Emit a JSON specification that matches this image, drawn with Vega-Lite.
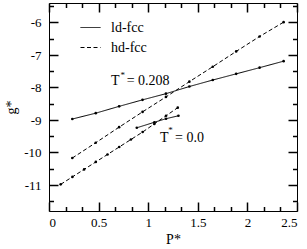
{
  "$schema": "https://vega.github.io/schema/vega-lite/v6.json",
  "width": 248,
  "height": 208,
  "autosize": {"type": "none"},
  "padding": {"left": 49, "top": 3, "right": 10, "bottom": 38},
  "config": {
    "view": {"stroke": "black", "strokeWidth": 1},
    "font": "Liberation Serif",
    "axis": {
      "domain": false,
      "grid": false,
      "labelColor": "black",
      "labelFont": "Liberation Serif",
      "labelFontSize": 13,
      "titleFont": "Liberation Serif",
      "titleFontSize": 14,
      "titleFontWeight": "normal",
      "titleColor": "black"
    }
  },
  "datasets": {
    "curves": [
      {"p": 0.235, "g": -8.97, "phase": "ld-fcc", "curve": "ld0208"},
      {"p": 0.471, "g": -8.79, "phase": "ld-fcc", "curve": "ld0208"},
      {"p": 0.707, "g": -8.58, "phase": "ld-fcc", "curve": "ld0208"},
      {"p": 0.943, "g": -8.38, "phase": "ld-fcc", "curve": "ld0208"},
      {"p": 1.179, "g": -8.19, "phase": "ld-fcc", "curve": "ld0208"},
      {"p": 1.415, "g": -7.97, "phase": "ld-fcc", "curve": "ld0208"},
      {"p": 1.651, "g": -7.77, "phase": "ld-fcc", "curve": "ld0208"},
      {"p": 1.887, "g": -7.58, "phase": "ld-fcc", "curve": "ld0208"},
      {"p": 2.123, "g": -7.39, "phase": "ld-fcc", "curve": "ld0208"},
      {"p": 2.365, "g": -7.19, "phase": "ld-fcc", "curve": "ld0208"},
      {"p": 0.235, "g": -10.17, "phase": "hd-fcc", "curve": "hd0208"},
      {"p": 0.471, "g": -9.70, "phase": "hd-fcc", "curve": "hd0208"},
      {"p": 0.707, "g": -9.22, "phase": "hd-fcc", "curve": "hd0208"},
      {"p": 0.943, "g": -8.75, "phase": "hd-fcc", "curve": "hd0208"},
      {"p": 1.179, "g": -8.29, "phase": "hd-fcc", "curve": "hd0208"},
      {"p": 1.415, "g": -7.82, "phase": "hd-fcc", "curve": "hd0208"},
      {"p": 1.651, "g": -7.36, "phase": "hd-fcc", "curve": "hd0208"},
      {"p": 1.887, "g": -6.89, "phase": "hd-fcc", "curve": "hd0208"},
      {"p": 2.123, "g": -6.43, "phase": "hd-fcc", "curve": "hd0208"},
      {"p": 2.365, "g": -5.99, "phase": "hd-fcc", "curve": "hd0208"},
      {"p": 0.118, "g": -10.98, "phase": "hd-fcc", "curve": "hd00"},
      {"p": 0.236, "g": -10.75, "phase": "hd-fcc", "curve": "hd00"},
      {"p": 0.354, "g": -10.52, "phase": "hd-fcc", "curve": "hd00"},
      {"p": 0.472, "g": -10.29, "phase": "hd-fcc", "curve": "hd00"},
      {"p": 0.590, "g": -10.06, "phase": "hd-fcc", "curve": "hd00"},
      {"p": 0.708, "g": -9.83, "phase": "hd-fcc", "curve": "hd00"},
      {"p": 0.826, "g": -9.60, "phase": "hd-fcc", "curve": "hd00"},
      {"p": 0.944, "g": -9.37, "phase": "hd-fcc", "curve": "hd00"},
      {"p": 1.062, "g": -9.12, "phase": "hd-fcc", "curve": "hd00"},
      {"p": 1.180, "g": -8.87, "phase": "hd-fcc", "curve": "hd00"},
      {"p": 1.298, "g": -8.62, "phase": "hd-fcc", "curve": "hd00"},
      {"p": 0.885, "g": -9.24, "phase": "ld-fcc", "curve": "ld00"},
      {"p": 1.062, "g": -9.07, "phase": "ld-fcc", "curve": "ld00"},
      {"p": 1.180, "g": -8.96, "phase": "ld-fcc", "curve": "ld00"},
      {"p": 1.305, "g": -8.87, "phase": "ld-fcc", "curve": "ld00"}
    ],
    "labels": [
      {"p": 0.625, "g": -7.92, "text": "T"},
      {"p": 0.783, "g": -7.92, "text": "= 0.208"},
      {"p": 1.119, "g": -9.69, "text": "T"},
      {"p": 1.27, "g": -9.69, "text": "= 0.0"}
    ],
    "stars": [
      {"p": 0.744, "g": -7.62, "text": "*"},
      {"p": 1.225, "g": -9.30, "text": "*"}
    ]
  },
  "resolve": {"axis": {"x": "independent", "y": "independent"}},
  "layer": [
    {
      "data": {"name": "curves"},
      "mark": {"type": "line", "color": "black", "strokeWidth": 1},
      "encoding": {
        "x": {
          "field": "p", "type": "quantitative",
          "scale": {"domain": [0, 2.5], "nice": false, "zero": false},
          "axis": {
            "orient": "bottom",
            "title": "P*",
            "values": [0, 0.5, 1, 1.5, 2, 2.5],
            "ticks": false,
            "labelExpr": "toString(datum.value)",
            "labelPadding": 5,
            "titlePadding": 3
          }
        },
        "y": {
          "field": "g", "type": "quantitative",
          "scale": {"domain": [-11.8, -5.4], "nice": false, "zero": false},
          "axis": {
            "orient": "left",
            "title": "g*",
            "values": [-11, -10, -9, -8, -7, -6],
            "ticks": false,
            "labelExpr": "toString(datum.value)",
            "labelPadding": 8,
            "titlePadding": 5
          }
        },
        "detail": {"field": "curve"},
        "strokeDash": {
          "field": "phase", "type": "nominal",
          "scale": {"domain": ["ld-fcc", "hd-fcc"], "range": [[1, 0], [4, 2.5]]},
          "legend": {
            "orient": "none",
            "legendX": 31,
            "legendY": 14,
            "title": null,
            "padding": 0,
            "symbolType": "stroke",
            "symbolSize": 400,
            "symbolStrokeWidth": 1,
            "symbolStrokeColor": "black",
            "labelFont": "Liberation Serif",
            "labelFontSize": 14,
            "labelColor": "black",
            "labelOffset": 10,
            "rowPadding": 2
          }
        }
      }
    },
    {
      "data": {"name": "curves"},
      "mark": {"type": "point", "opacity": 0},
      "encoding": {
        "x": {
          "field": "p", "type": "quantitative",
          "axis": {"orient": "bottom", "title": null, "labels": false, "values": [0, 0.5, 1, 1.5, 2, 2.5], "tickColor": "black", "tickWidth": 1.5, "tickSize": 9, "offset": -9}
        },
        "y": {
          "field": "g", "type": "quantitative",
          "axis": {"orient": "left", "title": null, "labels": false, "values": [-11, -10, -9, -8, -7, -6], "tickColor": "black", "tickWidth": 1.5, "tickSize": 9, "offset": -9}
        }
      }
    },
    {
      "data": {"name": "curves"},
      "mark": {"type": "point", "opacity": 0},
      "encoding": {
        "x": {
          "field": "p", "type": "quantitative",
          "axis": {"orient": "top", "title": null, "labels": false, "values": [0, 0.5, 1, 1.5, 2, 2.5], "tickColor": "black", "tickWidth": 1.5, "tickSize": -9}
        },
        "y": {
          "field": "g", "type": "quantitative",
          "axis": {"orient": "right", "title": null, "labels": false, "values": [-11, -10, -9, -8, -7, -6], "tickColor": "black", "tickWidth": 1.5, "tickSize": -9}
        }
      }
    },
    {
      "data": {"name": "curves"},
      "mark": {"type": "point", "opacity": 0},
      "encoding": {
        "x": {
          "field": "p", "type": "quantitative",
          "axis": {"orient": "bottom", "title": null, "labels": false, "values": [0.16667, 0.33333, 0.66667, 0.83333, 1.16667, 1.33333, 1.66667, 1.83333, 2.16667, 2.33333], "tickColor": "black", "tickWidth": 1.5, "tickSize": 4.5, "offset": -4.5}
        },
        "y": {
          "field": "g", "type": "quantitative",
          "axis": {"orient": "left", "title": null, "labels": false, "values": [-11.5, -10.5, -9.5, -8.5, -7.5, -6.5, -5.5], "tickColor": "black", "tickWidth": 1.5, "tickSize": 4.5, "offset": -4.5}
        }
      }
    },
    {
      "data": {"name": "curves"},
      "mark": {"type": "point", "opacity": 0},
      "encoding": {
        "x": {
          "field": "p", "type": "quantitative",
          "axis": {"orient": "top", "title": null, "labels": false, "values": [0.16667, 0.33333, 0.66667, 0.83333, 1.16667, 1.33333, 1.66667, 1.83333, 2.16667, 2.33333], "tickColor": "black", "tickWidth": 1.5, "tickSize": -4.5}
        },
        "y": {
          "field": "g", "type": "quantitative",
          "axis": {"orient": "right", "title": null, "labels": false, "values": [-11.5, -10.5, -9.5, -8.5, -7.5, -6.5, -5.5], "tickColor": "black", "tickWidth": 1.5, "tickSize": -4.5}
        }
      }
    },
    {
      "data": {"name": "curves"},
      "mark": {"type": "point", "filled": true, "color": "black", "size": 7, "opacity": 1},
      "encoding": {
        "x": {"field": "p", "type": "quantitative", "axis": null},
        "y": {"field": "g", "type": "quantitative", "axis": null}
      }
    },
    {
      "data": {"name": "labels"},
      "mark": {"type": "text", "align": "left", "baseline": "alphabetic", "font": "Liberation Serif", "fontSize": 14, "color": "black"},
      "encoding": {
        "x": {"field": "p", "type": "quantitative", "axis": null},
        "y": {"field": "g", "type": "quantitative", "axis": null},
        "text": {"field": "text"}
      }
    },
    {
      "data": {"name": "stars"},
      "mark": {"type": "text", "align": "center", "baseline": "middle", "font": "Liberation Serif", "fontSize": 9, "color": "black"},
      "encoding": {
        "x": {"field": "p", "type": "quantitative", "axis": null},
        "y": {"field": "g", "type": "quantitative", "axis": null},
        "text": {"field": "text"}
      }
    }
  ]
}
